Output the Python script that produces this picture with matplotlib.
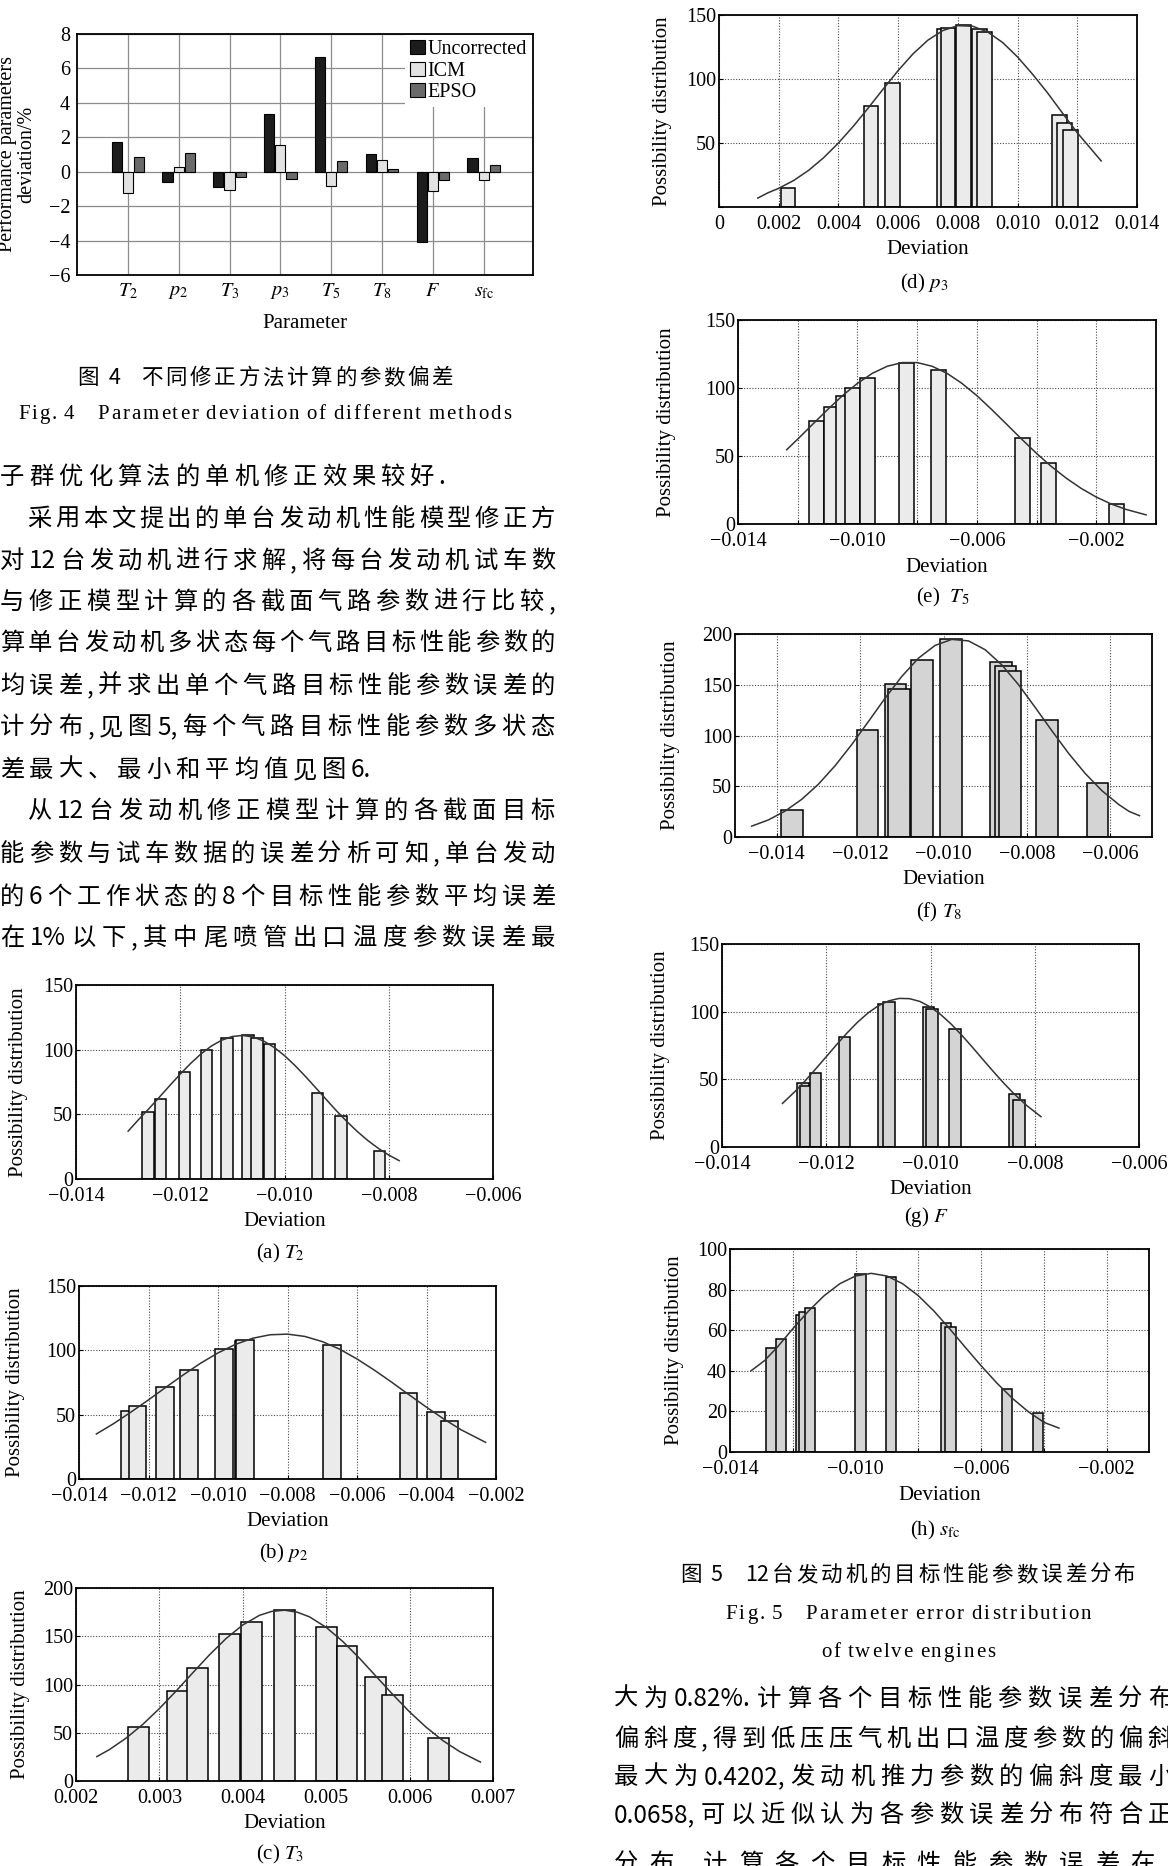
import numpy as np
import matplotlib
matplotlib.use('Agg')
import matplotlib.pyplot as plt

W, H = 1168, 1866
SERIF = ['Liberation Serif', 'DejaVu Serif']
CN = ['Noto Sans CJK SC', 'DejaVu Sans']
plt.rcParams['font.family'] = SERIF
plt.rcParams['mathtext.fontset'] = 'stix'

# ---- Fig. 4: parameter deviation of different methods (%)
params = ['$T_2$', '$p_2$', '$T_3$', '$p_3$', '$T_5$', '$T_8$', '$F$', r'$s_{\rm fc}$']
uncorrected = [1.75, -0.58, -0.87, 3.36, 6.68, 1.05, -4.08, 0.82]
icm = [-1.22, 0.29, -1.09, 1.53, -0.83, 0.68, -1.13, -0.49]
epso = [0.87, 1.10, -0.29, -0.43, 0.64, 0.17, -0.49, 0.39]

# ---- Fig. 5: error distributions (bar centres, bar heights, fitted curve)
t2_x = [-0.01262, -0.01238, -0.01192, -0.01150, -0.01110, -0.01070, -0.01053, -0.01029, -0.00937, -0.00892, -0.00818]
t2_h = [51.5, 62, 83, 100, 109, 111, 109, 104, 66.5, 49, 21.5]
t2_cx = [-0.0130, -0.0128, -0.0126, -0.0124, -0.0122, -0.0120, -0.0118, -0.0116, -0.0114, -0.0112,
         -0.0110, -0.0108, -0.0106, -0.0104, -0.0102, -0.0100, -0.0098, -0.0096, -0.0094, -0.0092,
         -0.0090, -0.0088, -0.0086, -0.0084, -0.0082, -0.0080, -0.0078]
t2_cy = [37.0, 45.9, 54.4, 63.3, 72.3, 81.1, 89.4, 96.8, 102.9, 107.4,
         110.2, 111.0, 109.8, 106.7, 101.8, 95.4, 87.8, 79.4, 70.5, 61.5,
         52.6, 44.3, 36.6, 29.7, 23.7, 18.5, 14.2]

p2_x = [-0.01253, -0.01231, -0.01153, -0.01083, -0.00983, -0.00927, -0.00922, -0.00672, -0.00451, -0.00373, -0.00333]
p2_h = [52.5, 56.5, 71.5, 85, 101, 107, 108, 104, 67, 52, 45]
p2_cx = [-0.0135, -0.0130, -0.0125, -0.0120, -0.0115, -0.0110, -0.0105, -0.0100, -0.0095, -0.0090, -0.0085, -0.0080,
         -0.0075, -0.0070, -0.0065, -0.0060, -0.0055, -0.0050, -0.0045, -0.0040, -0.0035, -0.0030, -0.0023]
p2_cy = [35.0, 43.1, 52.1, 61.5, 71.3, 80.9, 90.0, 98.0, 104.6, 109.4, 112.1, 112.6,
         110.8, 106.8, 100.9, 93.3, 84.6, 75.2, 65.4, 55.8, 46.6, 38.2, 28.5]

t3_x = [0.00275, 0.00322, 0.00346, 0.00384, 0.00410, 0.00450, 0.00500, 0.00525, 0.00559, 0.00579, 0.00635]
t3_h = [55.5, 93.5, 117.5, 152.5, 165, 177.5, 159.5, 140, 108, 89, 44.5]
t3_cx = [0.00225, 0.0024, 0.0026, 0.0028, 0.0030, 0.0032, 0.0034, 0.0036, 0.0038, 0.0040, 0.0042, 0.00435, 0.0045,
         0.00465, 0.0048, 0.0050, 0.0052, 0.0054, 0.0056, 0.0058, 0.0060, 0.0062, 0.0064, 0.0066, 0.00685]
t3_cy = [25.3, 32.5, 44.4, 58.6, 75.1, 93.2, 112.1, 130.7, 147.7, 161.7, 171.7, 175.8, 177.0,
         175.0, 170.1, 159.2, 144.5, 127.1, 108.3, 89.5, 71.6, 55.6, 41.8, 30.5, 19.6]

p3_x = [0.00231, 0.00509, 0.00580, 0.00756, 0.00767, 0.00820, 0.00872, 0.00889, 0.01140, 0.01158, 0.01178]
p3_h = [15, 79, 97, 139, 140, 142, 139, 137, 72, 66, 60]
p3_cx = [0.0013, 0.00165, 0.0020, 0.0025, 0.0030, 0.0035, 0.0040, 0.0045, 0.0050, 0.0055, 0.0060, 0.0065, 0.0070,
         0.0075, 0.0080, 0.0085, 0.0090, 0.0095, 0.0100, 0.0105, 0.0110, 0.0115, 0.0120, 0.0124, 0.0128]
p3_cy = [7.0, 11.2, 14.6, 20.7, 28.6, 38.4, 50.0, 63.1, 77.4, 92.2, 106.6, 119.7, 130.4,
         137.9, 141.7, 141.2, 136.7, 128.5, 117.2, 103.8, 89.3, 73.5, 58.0, 47.0, 36.0]

t5_x = [-0.01138, -0.01088, -0.01046, -0.01016, -0.00967, -0.00837, -0.00728, -0.00446, -0.00360, -0.00132]
t5_h = [76, 86, 94, 100, 107.5, 118.5, 113.5, 63.5, 45, 14.5]
t5_cx = [-0.01237, -0.0120, -0.0115, -0.0110, -0.0105, -0.0100, -0.0095, -0.0090, -0.0085, -0.0080, -0.0075,
         -0.0070, -0.0065, -0.0060, -0.0055, -0.0050, -0.0045, -0.0040, -0.0035, -0.0030, -0.0025,
         -0.0020, -0.0015, -0.0010, -0.00033]
t5_cy = [54.6, 62.4, 73.3, 84.1, 94.4, 103.4, 110.8, 116.0, 118.7, 118.7, 116.0,
         110.8, 103.4, 94.4, 84.1, 73.3, 62.4, 51.9, 42.2, 33.6, 26.1,
         19.8, 14.7, 10.7, 6.7]

t8_x = [-0.01363, -0.01182, -0.01115, -0.01107, -0.01052, -0.00982, -0.00862, -0.00851, -0.00841, -0.00752, -0.00631]
t8_h = [27, 105.5, 150.5, 145.5, 174.5, 195, 172.5, 168, 164, 115.5, 53]
t8_cx = [-0.0146, -0.0142, -0.0138, -0.0134, -0.0130, -0.0126, -0.0122, -0.0118, -0.0114, -0.0110, -0.0106,
         -0.0102, -0.0098, -0.0094, -0.0090, -0.0086, -0.0082, -0.0078, -0.0074, -0.0070, -0.0066,
         -0.0062, -0.0058, -0.00555, -0.0053]
t8_cy = [10.7, 16.8, 25.5, 37.1, 52.0, 70.2, 91.1, 113.8, 136.8, 158.2, 176.2,
         188.8, 194.7, 193.2, 184.5, 169.5, 150.0, 127.6, 104.6, 82.4, 62.5,
         45.6, 32.1, 25.2, 21.0]

f_x = [-0.01245, -0.01240, -0.01221, -0.01165, -0.01089, -0.01080, -0.01004, -0.00997, -0.00953, -0.00839, -0.00830]
f_h = [47, 45, 54.5, 81, 106, 107, 103.5, 102, 87.5, 39, 35]
f_cx = [-0.01284, -0.0126, -0.0124, -0.0122, -0.0120, -0.0118, -0.0116, -0.0114, -0.0112, -0.0110, -0.0108,
        -0.0106, -0.0104, -0.0102, -0.0100, -0.0098, -0.0096, -0.0094, -0.0092, -0.0090, -0.0088,
        -0.0086, -0.0084, -0.00815, -0.00788]
f_cy = [32.2, 41.0, 49.1, 57.8, 66.7, 75.7, 84.3, 92.2, 99.0, 104.4, 108.0,
        109.8, 109.6, 107.5, 103.4, 97.7, 90.7, 82.6, 73.9, 64.9, 56.0,
        47.4, 39.4, 30.5, 22.4]

sfc_x = [-0.01268, -0.01237, -0.01173, -0.01162, -0.01145, -0.00985, -0.00887, -0.00712, -0.00698, -0.00517, -0.00419]
sfc_h = [51, 55.5, 67.5, 69, 71, 87.5, 86, 63.5, 61.5, 31, 19]
sfc_cx = [-0.01333, -0.0129, -0.0125, -0.0120, -0.0115, -0.0110, -0.0105, -0.0100, -0.0095, -0.0090, -0.0085,
          -0.0080, -0.0075, -0.0070, -0.0065, -0.0060, -0.0055, -0.0050, -0.0045, -0.0040, -0.00352]
sfc_cy = [40.0, 45.0, 51.5, 60.7, 69.4, 77.0, 82.9, 86.7, 88.0, 86.7, 82.9,
          77.0, 69.4, 60.7, 51.5, 42.5, 34.0, 26.4, 19.9, 14.6, 11.8]

# ---- page text
left_lines = ['子群优化算法的单机修正效果较好.',
              '采用本文提出的单台发动机性能模型修正方',
              '对 12 台发动机进行求解,将每台发动机试车数',
              '与修正模型计算的各截面气路参数进行比较,',
              '算单台发动机多状态每个气路目标性能参数的',
              '均误差,并求出单个气路目标性能参数误差的',
              '计分布,见图 5,每个气路目标性能参数多状态',
              '差最大、最小和平均值见图 6.',
              '从 12 台发动机修正模型计算的各截面目标',
              '能参数与试车数据的误差分析可知,单台发动',
              '的 6 个工作状态的 8 个目标性能参数平均误差',
              '在 1%以下,其中尾喷管出口温度参数误差最']
right_lines = ['大为 0.82%.计算各个目标性能参数误差分布',
               '偏斜度,得到低压压气机出口温度参数的偏斜',
               '最大为 0.4202,发动机推力参数的偏斜度最小',
               '0.0658,可以近似认为各参数误差分布符合正',
               '分布.计算各个目标性能参数误差在区']

fig = plt.figure(figsize=(W / 100, H / 100), dpi=100)
renderer = fig.canvas.get_renderer()


def box(l, t, r, b):
    return fig.add_axes([l / W, 1 - b / H, (r - l) / W, (b - t) / H])


def txt(x, y, s, **kw):
    kw.setdefault('ha', 'center')
    kw.setdefault('va', 'center')
    return fig.text(x / W, 1 - y / H, s, **kw)


def is_cjk(c):
    return ord(c) > 0x2E7F


def tokens(s, per_char):
    out, buf, pad = [], '', 0
    for c in s:
        if c == ' ':
            if buf:
                out.append((buf, pad))
                buf, pad = '', 0
            pad += 1
        elif per_char or is_cjk(c):
            if buf:
                out.append((buf, pad))
                buf, pad = '', 0
            out.append((c, pad))
            pad = 0
        else:
            buf += c
    if buf:
        out.append((buf, pad))
    return out


def put_line(s, x0, y, x1=None, size=17.5, family=CN, gap=5.0, per_char=False, base=0.37):
    # justified line: tokens spread evenly between x0 and x1
    toks = tokens(s, per_char)
    em = size * 100 / 72
    sw = 0.25 * em if per_char else 0.0
    yb = y + base * em
    arts, ws = [], []
    for t, p in toks:
        a = fig.text(0, 1 - yb / H, t, fontsize=size, family=family, va='baseline', ha='left')
        arts.append(a)
        ws.append(a.get_window_extent(renderer).width)
    pads = [p * sw for t, p in toks]
    if x1 is not None and len(toks) > 1:
        gap = (x1 - x0 - sum(ws) - sum(pads[1:])) / (len(toks) - 1)
    x = x0
    for i, (a, w) in enumerate(zip(arts, ws)):
        if i:
            x += pads[i]
        a.set_x(x / W)
        x += w + gap


# ---------------- Fig. 4
ax = box(77, 34, 533, 275)
x = np.arange(len(params))
ax.bar(x - 0.22, uncorrected, 0.2, color='#1c1c1c', edgecolor='black', lw=0.8, label='Uncorrected', zorder=2)
ax.bar(x, icm, 0.2, color='#e2e2e2', edgecolor='black', lw=0.8, label='ICM', zorder=2)
ax.bar(x + 0.22, epso, 0.2, color='#6a6a6a', edgecolor='black', lw=0.8, label='EPSO', zorder=2)
ax.set_xlim(-1, 7.97)
ax.set_ylim(-6, 8)
ax.set_xticks(x)
ax.set_xticklabels(params, fontsize=17.5)
ax.set_yticks(np.arange(-6, 9, 2))
ax.grid(True, color='#8c8c8c', lw=0.9)
ax.set_axisbelow(True)
ax.tick_params(length=0, labelsize=14.5, pad=5)
for s in ax.spines.values():
    s.set_linewidth(1.3)
ax.legend(loc='upper right', fontsize=14.5, handlelength=0.7, handleheight=0.7,
          handletextpad=0.15, labelspacing=0.12, borderpad=0.25, borderaxespad=0.05,
          fancybox=False, edgecolor='none', framealpha=1)
txt(17, 154, 'Performance parameters\ndeviation/%', rotation=90, fontsize=14.5, linespacing=1.0)
txt(305, 323, 'Parameter', fontsize=15)
put_line('图 4', 77, 376, size=15.5, gap=10)
put_line('不同修正方法计算的参数偏差', 141, 376, 453, size=15.5)
put_line('Fig. 4    Parameter deviation of different methods', 18, 412, 511,
         size=15, family=SERIF, per_char=True, base=0.33)

# ---------------- Fig. 5 panels


def fmt(v):
    return '0' if abs(v) < 1e-12 else f'{v:.3f}'.replace('-', '\u2212')


def hist_panel(pos, xs, hs, width, cx, cy, xlim, xticks, ylim, yticks, face,
               ylab_x, dev_y, cap_y, caption, every=1, skip_y0=False):
    l, t, r, b = pos
    ax = box(l, t, r, b)
    ax.bar(xs, hs, width=width, color=face, edgecolor='black', linewidth=1.1, zorder=2)
    ax.plot(cx, cy, color='#333333', lw=1.1, zorder=3)
    ax.set_xlim(*xlim)
    ax.set_ylim(*ylim)
    ax.set_xticks(xticks)
    ax.set_xticklabels([fmt(v) if i % every == 0 else '' for i, v in enumerate(xticks)])
    ax.set_yticks(yticks)
    ax.set_yticklabels(['' if (skip_y0 and v == 0) else str(v) for v in yticks])
    ax.grid(True, ls=(0, (1, 1.5)), color='#4a4a4a', lw=0.8)
    ax.set_axisbelow(True)
    ax.tick_params(direction='in', length=3, labelsize=14.5)
    ax.tick_params(axis='x', pad=6)
    ax.tick_params(axis='y', pad=2)
    for s in ax.spines.values():
        s.set_linewidth(1.3)
    txt(ylab_x, (t + b) / 2, 'Possibility distribution', rotation=90, fontsize=15)
    txt((l + r) / 2, dev_y, 'Deviation', fontsize=15)
    txt((l + r) / 2 - 4, cap_y, caption, fontsize=15)
    return ax


light, mid = '#ebebeb', '#d4d4d4'
hist_panel((76, 985, 493, 1179), t2_x, t2_h, 0.00022, t2_cx, t2_cy, (-0.014, -0.006),
           np.arange(-0.014, -0.0059, 0.002), (0, 150), [0, 50, 100, 150], light,
           19, 1222, 1253, '(a) $T_2$')
hist_panel((79, 1286, 496, 1479), p2_x, p2_h, 0.0005, p2_cx, p2_cy, (-0.014, -0.002),
           np.arange(-0.014, -0.0019, 0.002), (0, 150), [0, 50, 100, 150], light,
           16, 1521, 1553, '(b) $p_2$')
hist_panel((76, 1588, 493, 1781), t3_x, t3_h, 0.00025, t3_cx, t3_cy, (0.002, 0.007),
           np.arange(0.002, 0.00701, 0.001), (0, 200), [0, 50, 100, 150, 200], light,
           21, 1824, 1854, '(c) $T_3$')
hist_panel((719, 15, 1137, 207), p3_x, p3_h, 0.0005, p3_cx, p3_cy, (0, 0.014),
           np.arange(0, 0.01401, 0.002), (0, 150), [0, 50, 100, 150], light,
           663, 250, 283, '(d) $p_3$', skip_y0=True)
hist_panel((738, 320, 1156, 524), t5_x, t5_h, 0.0005, t5_cx, t5_cy, (-0.014, 0),
           np.arange(-0.014, 0.0001, 0.002), (0, 150), [0, 50, 100, 150], light,
           667, 567, 597, '(e)  $T_5$', every=2)
hist_panel((735, 634, 1152, 837), t8_x, t8_h, 0.00052, t8_cx, t8_cy, (-0.015, -0.005),
           np.arange(-0.014, -0.0059, 0.002), (0, 200), [0, 50, 100, 150, 200], mid,
           671, 880, 912, '(f) $T_8$')
hist_panel((722, 944, 1139, 1147), f_x, f_h, 0.00022, f_cx, f_cy, (-0.014, -0.006),
           np.arange(-0.014, -0.0059, 0.002), (0, 150), [0, 50, 100, 150], mid,
           660, 1190, 1217, '(g) $F$')
hist_panel((730, 1249, 1149, 1452), sfc_x, sfc_h, 0.00034, sfc_cx, sfc_cy, (-0.014, -0.00065),
           np.arange(-0.014, -0.0019, 0.002), (0, 100), [0, 20, 40, 60, 80, 100], mid,
           675, 1495, 1530, r'(h) $s_{\rm fc}$', every=2)

put_line('图 5', 680, 1573, size=15.5, gap=9)
put_line('12 台发动机的目标性能参数误差分布', 745, 1573, 1135, size=15.5)
put_line('Fig. 5    Parameter error distribution', 725, 1612, 1091,
         size=15, family=SERIF, per_char=True, base=0.33)
put_line('of twelve engines', 821, 1650, 995, size=15, family=SERIF, per_char=True, base=0.33)

# ---------------- body text
left_y = [475, 517, 559, 600, 641, 684, 725, 768, 809, 852, 895, 936]
for i, (s, y) in enumerate(zip(left_lines, left_y)):
    x0 = 27 if i in (1, 8) else 0
    x1 = None if i in (0, 7) else 555
    put_line(s, x0, y, x1)

right_y = [1697, 1737, 1775, 1813, 1862]
for i, (s, y) in enumerate(zip(right_lines, right_y)):
    put_line(s, 614, y, 1172 if i < 4 else 1190)

fig.savefig('out.png', dpi=100)
